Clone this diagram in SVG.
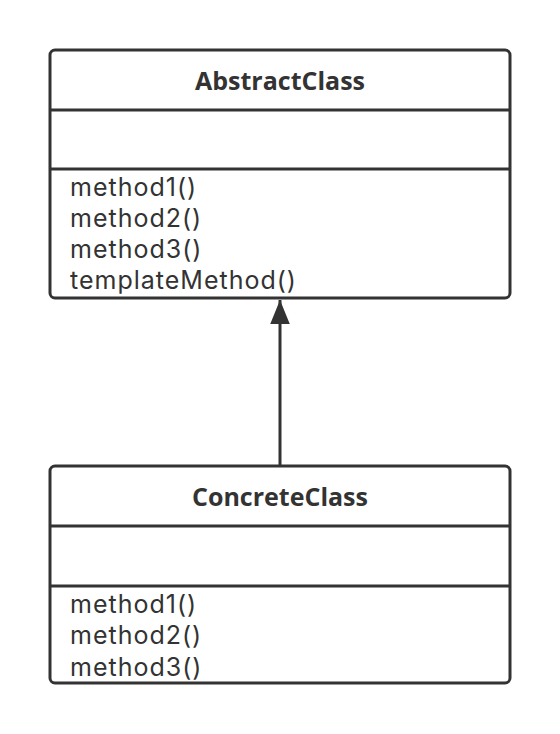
<svg xmlns="http://www.w3.org/2000/svg" width="560" height="734" viewBox="0 0 560 734">
<style>
.box{fill:#fff;stroke:#333;stroke-width:3}
.div{stroke:#333;stroke-width:3}
.title{font-family:"Open Sans","Noto Sans",sans-serif;font-weight:bold;font-size:25px;fill:#333;text-anchor:middle}
.m{font-family:Inter,"Open Sans",sans-serif;font-size:25px;letter-spacing:1px;fill:#333}
.conn{stroke:#333;stroke-width:3;fill:none}
</style>
<defs>
<marker id="tri" markerUnits="userSpaceOnUse" markerWidth="24" markerHeight="30" refX="27" refY="11" orient="auto" viewBox="0 0 27 22">
<path d="M0,0 L27,11 L0,22 Z" fill="#333"/>
</marker>
</defs>
<g id="connectors">
<line class="conn" x1="280" y1="465" x2="280" y2="300" marker-end="url(#tri)"/>
</g>
<g id="AbstractClass">
<rect class="box" x="50" y="50" width="460" height="248" rx="5"/>
<line class="div" x1="50" y1="110" x2="510" y2="110"/>
<line class="div" x1="50" y1="169" x2="510" y2="169"/>
<text class="title" x="280" y="90">AbstractClass</text>
<text class="m" x="70" y="196">method1()</text>
<text class="m" x="70" y="227">method2()</text>
<text class="m" x="70" y="258">method3()</text>
<text class="m" x="70" y="289">templateMethod()</text>
</g>
<g id="ConcreteClass">
<rect class="box" x="50" y="466" width="460" height="217" rx="5"/>
<line class="div" x1="50" y1="526" x2="510" y2="526"/>
<line class="div" x1="50" y1="586" x2="510" y2="586"/>
<text class="title" x="280" y="506">ConcreteClass</text>
<text class="m" x="70" y="613">method1()</text>
<text class="m" x="70" y="644">method2()</text>
<text class="m" x="70" y="676">method3()</text>
</g>
</svg>
